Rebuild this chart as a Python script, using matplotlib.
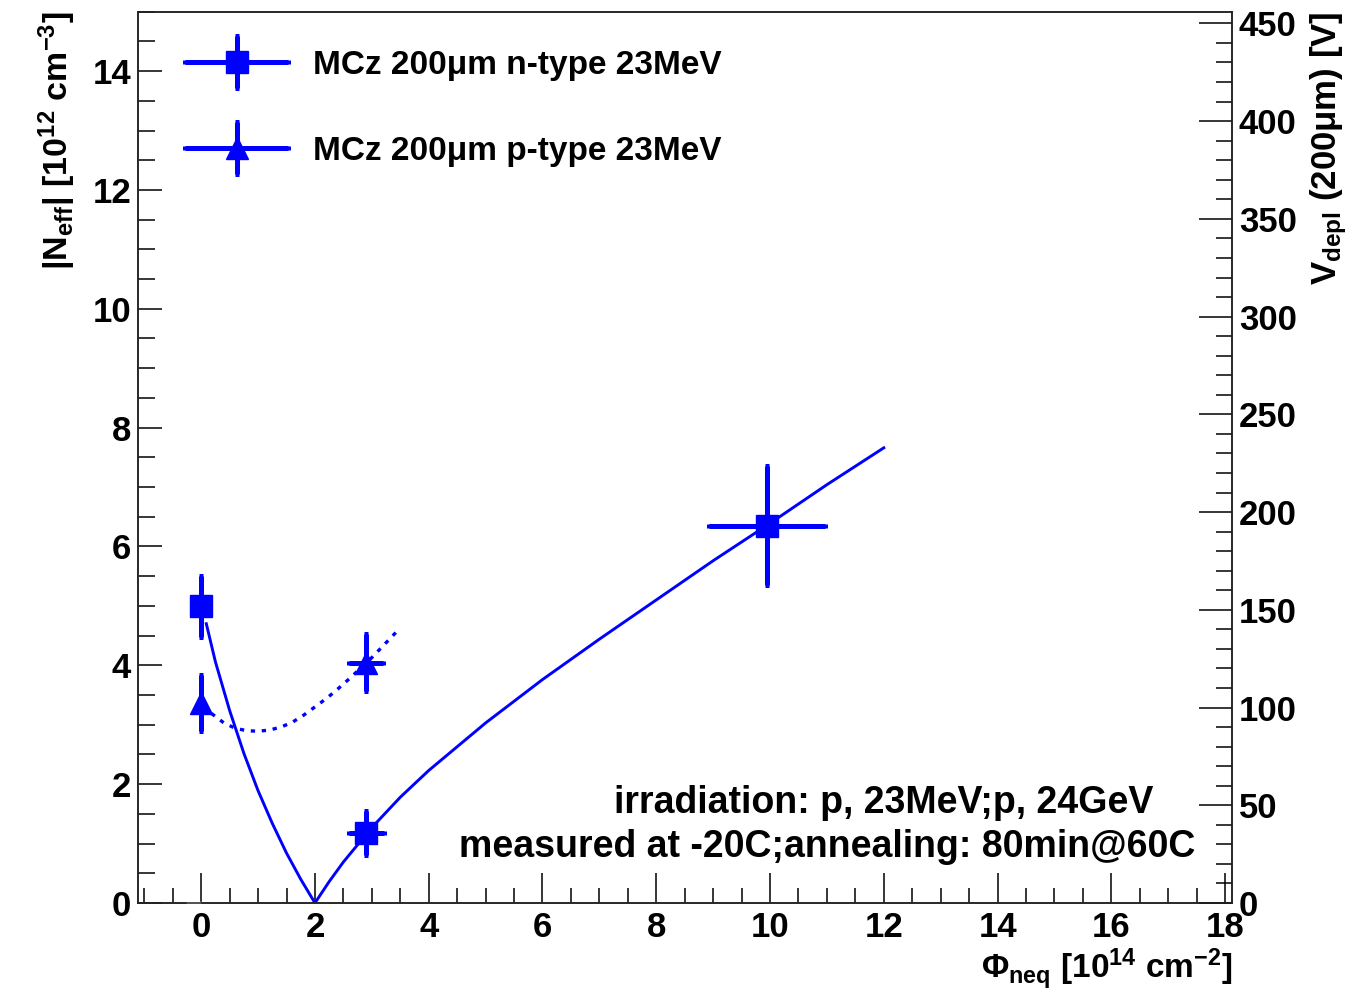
"""|Neff| and depletion voltage vs fluence for MCz 200um diodes"""

import matplotlib

matplotlib.use("Agg")
import matplotlib.pyplot as plt
from matplotlib.container import ErrorbarContainer
from matplotlib.legend_handler import HandlerErrorbar
from matplotlib.ticker import MultipleLocator

plt.rcParams["font.family"] = ["Liberation Sans", "DejaVu Sans"]
plt.rcParams["font.weight"] = "bold"
plt.rcParams["axes.labelweight"] = "bold"
plt.rcParams["mathtext.fontset"] = "custom"
plt.rcParams["mathtext.rm"] = "Liberation Sans:bold"
plt.rcParams["mathtext.it"] = "Liberation Sans:bold"
plt.rcParams["mathtext.bf"] = "Liberation Sans:bold"
plt.rcParams["mathtext.default"] = "rm"

# measured points
n_phi = [0.0, 2.9, 9.95]
n_neff = [4.99, 1.18, 6.35]
n_phi_err = [0.0, 0.31, 1.02]
n_neff_err = [0.52, 0.37, 1.0]

p_phi = [0.0, 2.9]
p_neff = [3.37, 4.04]
p_phi_err = [0.0, 0.3]
p_neff_err = [0.47, 0.48]

# fit curves
n_fit_phi = [0.09, 0.25, 0.5, 0.75, 1.0, 1.25, 1.5, 1.75, 2.0, 2.25, 2.5, 3.0,
             3.5, 4.0, 5.0, 6.0, 7.0, 8.0, 9.0, 10.0, 11.0, 12.0]
n_fit_neff = [4.70, 4.06, 3.24, 2.52, 1.89, 1.34, 0.84, 0.40, 0.0, 0.36, 0.69, 1.27,
              1.78, 2.23, 3.03, 3.76, 4.44, 5.10, 5.76, 6.39, 7.04, 7.66]

p_fit_phi = [0.18, 0.4, 0.6, 0.8, 1.0, 1.2, 1.4, 1.6, 1.8, 2.0, 2.2, 2.4, 2.6,
             2.8, 3.0, 3.2, 3.42]
p_fit_neff = [3.19, 3.03, 2.94, 2.90, 2.89, 2.91, 2.96, 3.04, 3.16, 3.30, 3.44,
              3.60, 3.77, 3.95, 4.13, 4.33, 4.55]

labels = ["MCz 200\u03bcm n-type 23MeV", "MCz 200\u03bcm p-type 23MeV"]
V_PER_NEFF = 30.4  # V per 1e12 cm^-3 for 200um

BLUE = "#0000ff"
XLIM = (-1.11, 18.12)
YLIM = (0, 15)

fig = plt.figure(figsize=(13.52, 9.98), dpi=100)
ax = fig.add_axes([0.1021, 0.0952, 0.8091, 0.8931])
ax2 = ax.twinx()

ax.plot(n_fit_phi, n_fit_neff, color=BLUE, lw=2.1, zorder=2)
ax.plot(p_fit_phi, p_fit_neff, color=BLUE, lw=2.4, dashes=(1.3, 2.0), zorder=2)

err_kw = dict(color=BLUE, ecolor=BLUE, elinewidth=3.6, capsize=1.5, capthick=3.6,
              linestyle="none", zorder=3)
h_n = ax.errorbar(n_phi, n_neff, xerr=n_phi_err, yerr=n_neff_err, fmt="s",
                  ms=16.5, **err_kw)
h_p = ax.errorbar(p_phi, p_neff, xerr=p_phi_err, yerr=p_neff_err, fmt="^",
                  ms=16, **err_kw)

ax.set_xlim(*XLIM)
ax.set_ylim(*YLIM)
ax2.set_ylim(YLIM[0] * V_PER_NEFF, YLIM[1] * V_PER_NEFF)

ax.xaxis.set_major_locator(MultipleLocator(2))
ax.xaxis.set_minor_locator(MultipleLocator(0.5))
ax.yaxis.set_major_locator(MultipleLocator(2))
ax.yaxis.set_minor_locator(MultipleLocator(0.5))
ax2.yaxis.set_major_locator(MultipleLocator(50))
ax2.yaxis.set_minor_locator(MultipleLocator(10))

ax.tick_params(axis="x", which="major", direction="in", length=21.5, width=1.1,
               labelsize=25, pad=6, top=False)
ax.tick_params(axis="x", which="minor", direction="in", length=10.8, width=1.1, top=False)
ax.tick_params(axis="y", which="major", direction="in", length=17, width=1.1,
               labelsize=25, pad=5, right=False)
ax.tick_params(axis="y", which="minor", direction="in", length=12, width=1.1, right=False)
ax2.tick_params(axis="y", which="major", direction="in", length=24, width=1.1,
                labelsize=25, pad=5)
ax2.tick_params(axis="y", which="minor", direction="in", length=11.5, width=1.1)

for a in (ax, ax2):
    for s in a.spines.values():
        s.set_linewidth(1.1)
        s.set_color("#222222")

# small gap in the bottom axis line, as in the original
ax.plot([-0.23, -0.03], [0, 0], color="white", lw=2.5, clip_on=False, zorder=3)

ax.set_xlabel("\u03a6$_{neq}$ [10$^{14}$ cm$^{-2}$]", loc="right", fontsize=24,
              labelpad=2)
ax.set_ylabel("|N$_{eff}$| [10$^{12}$ cm$^{-3}$]", loc="top", fontsize=24.5,
              labelpad=10)
ax2.set_ylabel("V$_{depl}$ (200\u03bcm) [V]", loc="top", fontsize=25, labelpad=8)

ax.text(16.74, 1.68, "irradiation: p, 23MeV;p, 24GeV", ha="right", va="center",
        fontsize=27)
ax.text(17.47, 0.94, "measured at -20C;annealing: 80min@60C", ha="right",
        va="center", fontsize=27)

ax.legend([h_n, h_p], labels, loc="upper left", bbox_to_anchor=(0.043, 0.957),
          frameon=False, fontsize=24, handlelength=3.1, handletextpad=0.75,
          labelspacing=1.65, borderpad=0, borderaxespad=0,
          handler_map={ErrorbarContainer: HandlerErrorbar(xerr_size=1.55,
                                                          yerr_size=0.78)})

fig.savefig("out.png", dpi=100)
